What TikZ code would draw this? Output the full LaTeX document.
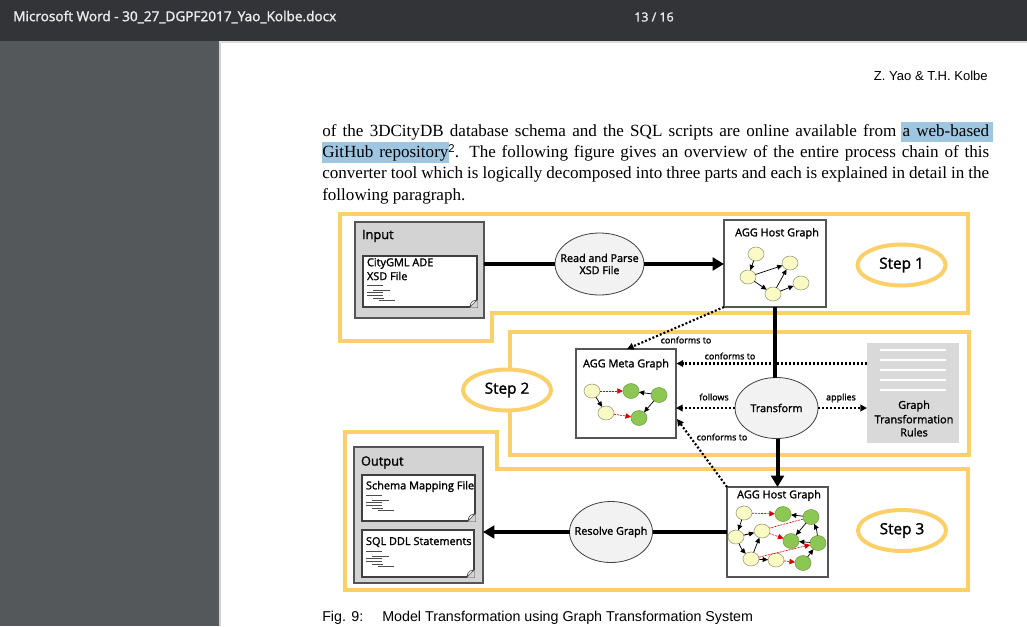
\documentclass[tikz,border=0pt]{standalone}
\usepackage{fontspec}
\setmainfont{Liberation Serif}
\newfontfamily\arialf{Liberation Sans}
\newfontfamily\diagf[FakeBold=1.6]{Open Sans}
\newfontfamily\headf[FakeBold=1.8]{Open Sans}
\usetikzlibrary{shapes.geometric,arrows.meta,calc}
\definecolor{stepcol}{HTML}{FBD068}
\definecolor{headbar}{HTML}{323437}
\definecolor{sidebar}{HTML}{54585A}
\definecolor{boxgray}{HTML}{D3D3D3}
\definecolor{rulegray}{HTML}{D9D9D9}
\definecolor{hilite}{HTML}{9FC6E0}
\definecolor{nodeyel}{HTML}{FAFAC4}
\definecolor{nodegrn}{HTML}{8CC653}
\definecolor{edgegray}{HTML}{555555}
\newcommand{\dsize}[1]{\fontsize{#1}{#1}\selectfont}
\tikzset{
  sz/.style 2 args={minimum width=#1*0.75pt,minimum height=#2*0.75pt,inner sep=0pt,outer sep=0pt},
  stepline/.style={draw=stepcol,line width=3pt,line join=miter},
  stepell/.style={ellipse,draw=stepcol,line width=3pt,fill=white,sz={#1}{41},font=\diagf\dsize{11.5}},
  stepell/.default=88,
  procell/.style={ellipse,draw=black!75,line width=0.6pt,fill=black!5,sz={83}{61},inner xsep=-14pt,inner ysep=-6pt,font=\diagf\dsize{8.1},align=center},
  holder/.style={rectangle,draw=edgegray,line width=0.8pt,fill=boxgray},
  graphbox/.style={rectangle,draw=edgegray,line width=0.8pt,fill=white},
  docbox/.style={rectangle,draw=black!75,line width=0.8pt,fill=white},
  lab/.style={font=\diagf\dsize{#1},inner sep=0pt,outer sep=0pt},
  yn/.style={ellipse,draw=black!40!nodeyel,line width=0.4pt,fill=nodeyel,sz={16}{14}},
  gn/.style={ellipse,draw=black!20!nodegrn,line width=0.4pt,fill=nodegrn,sz={16}{15}},
  thick arrow/.style={line width=3pt,-{Triangle[length=8.5pt,width=9.5pt]}},
  thick plain/.style={line width=3pt},
  dotarrow/.style={line width=1.6pt,dash pattern=on 1.5pt off 1.5pt,-{Triangle[length=5pt,width=5pt]}},
  bk/.style={line width=0.55pt,black,-{Triangle[length=4pt,width=3.6pt]}},
  rd/.style={line width=0.5pt,red!85!black,dash pattern=on 1.5pt off 0.8pt,-{Triangle[length=4.2pt,width=4pt]}},
  scrib/.pic={
    \draw[line width=0.45pt,black!70] (0,0)--(16,0) (6,5)--(23,5) (0,7)--(16,7) (0,10)--(16,10) (6,13)--(17,13) (12,15)--(28,15);
  },
  fold/.pic={
    \fill[boxgray] (-7,0.5)--(0.5,0.5)--(0.5,-7)--cycle;
    \draw[black!75,line width=0.5pt,fill=white] (-7,0)--(0,-7)--(-4,-6)--(-6,-4)--cycle;
  },
}
\begin{document}
\begin{tikzpicture}[x=0.75pt,y=-0.75pt]
\useasboundingbox (0,0) rectangle (1027,626);
\fill[white] (0,0) rectangle (1027,626);
% viewer chrome
\fill[sidebar] (0,41) rectangle (219,626);
\fill[black!18] (219,41) rectangle (220.5,626);
\fill[black!14] (219,41) rectangle (1027,42.5);
\fill[headbar] (0,0) rectangle (1027,41);
\node[anchor=west,text=white!92!black,inner sep=0pt] (title) at (13,17) {\headf\dsize{10.2}Microsoft Word - 30\_27\_DGPF2017\_Yao\_Kolbe.docx};
\node[text=white!92!black,inner sep=0pt] (pager) at (654,17) {\headf\dsize{9.3}13 / 16};
\node[anchor=east,inner sep=0pt] (runhead) at (988,76) {\arialf\dsize{9.8}Z. Yao \& T.H. Kolbe};
% body text
\fill[hilite] (901,122) rectangle (993,142);
\fill[hilite] (322,142) rectangle (449,163);
\node[anchor=base west,inner sep=0pt] (l1) at (322,136.7) {\dsize{12.8}\makebox[500.2pt][s]{of the 3DCityDB database schema and the SQL scripts are online available from a web-based}};
\node[anchor=base west,inner sep=0pt] (l2) at (322,157.7) {\dsize{12.8}\makebox[500.2pt][s]{GitHub repository\raisebox{4pt}{\arialf\dsize{8.5}2}. The following figure gives an overview of the entire process chain of this}};
\node[anchor=base west,inner sep=0pt] (l3) at (322,178.7) {\dsize{12.8}\makebox[500.2pt][s]{converter tool which is logically decomposed into three parts and each is explained in detail in the}};
\node[anchor=base west,inner sep=0pt] (l4) at (322,200.7) {\dsize{12.8}following paragraph.};
\node[anchor=base west,inner sep=0pt] (capa) at (322,621) {\arialf\dsize{10.7}Fig. 9:};
\node[anchor=base west,inner sep=0pt] (capb) at (382,621) {\arialf\dsize{10.7}Model Transformation using Graph Transformation System};
% step outlines
\draw[stepline] (340,214)--(968,214)--(968,313)--(492,313)--(492,341)--(340,341)--cycle;
\draw[stepline] (510,332)--(969,332)--(969,455)--(510,455)--cycle;
\draw[stepline] (345,432)--(497,432)--(497,469)--(968,469)--(968,590)--(345,590)--cycle;
\node[stepell] (s1) at (901.5,265) {Step 1};
\node[stepell] (s2) at (507,390) {Step 2};
\node[stepell] (s3) at (902,530.5) {Step 3};
% input
\node[holder,sz={129}{96}] (input) at (419.5,270) {};
\node[lab=9.6,anchor=west] (inputl) at (362,236) {Input};
\node[docbox,sz={114}{51}] (docA) at (420,281.5) {};
\pic at (docA.south east) {fold};
\node[lab=8.2,anchor=west] (docAa) at (367,263.5) {CityGML ADE};
\node[lab=8.2,anchor=west] (docAb) at (367,276) {XSD File};
\pic at (367,285) {scrib};
% output
\node[holder,sz={129}{136}] (output) at (418.5,515) {};
\node[lab=9.6,anchor=west] (outputl) at (361,462.5) {Output};
\node[docbox,sz={113}{46}] (docB) at (418.5,498) {};
\pic at (docB.south east) {fold};
\node[lab=8.2,anchor=west] (docBa) at (366,486.5) {Schema Mapping File};
\pic at (366,495.5) {scrib};
\node[docbox,sz={112}{47}] (docC) at (418,553.5) {};
\pic at (docC.south east) {fold};
\node[lab=8.2,anchor=west] (docCa) at (366,542) {SQL DDL Statements};
\pic at (366,551) {scrib};
% process ellipses
\node[procell,sz={89}{62},inner xsep=-14pt,inner ysep=-6pt] (read) at (599.5,264) {Read and Parse\\[1pt]XSD File};
\node[procell] (transform) at (776.5,408) {Transform};
\node[procell] (resolve) at (611,532) {Resolve Graph};
% graph boxes
\node[graphbox,sz={102}{87}] (hostA) at (775,263.5) {};
\node[lab=8.2] (hostAl) at (777,233.5) {AGG Host Graph};
\node[graphbox,sz={100}{89}] (meta) at (626,393.5) {};
\node[lab=8.2] (metal) at (626,364.5) {AGG Meta Graph};
\node[graphbox,sz={101}{90}] (hostB) at (777.5,532) {};
\node[lab=8.2] (hostBl) at (779,495.5) {AGG Host Graph};
% rules
\node[rectangle,fill=rulegray,sz={92}{100}] (rules) at (913,393) {};
\foreach \yy in {350,360,370,380,390} \fill[white] (880,\yy-0.7) rectangle (946,\yy+0.7);
\node[lab=8.2,align=center] (rulesl) at (914,418.5) {Graph\\[1.6pt]Transformation\\[1.6pt]Rules};
% main flow
\draw[thick plain] (input.east |- read) -- (read.west);
\draw[thick arrow] (read.east) -- (hostA.west |- read);
\draw[thick plain] (hostA.south) -- (hostA.south |- transform.north);
\draw[thick arrow] (transform.south -| hostB.north) -- (hostB.north);
\draw[thick plain] (hostB.west |- resolve) -- (resolve.east);
\draw[thick arrow] (resolve.west) -- (output.east |- resolve);
% dotted relations
\coordinate (metaTop) at (627,349);
\coordinate (metaLow) at (677,419);
\coordinate (metaMid) at (676.5,363.5);
\draw[dotarrow] (hostA.south west) -- (metaTop);
\draw[dotarrow] (rules.west |- metaMid) -- (metaMid);
\draw[dotarrow] (transform.west) -- (meta.east |- transform);
\draw[dotarrow] (transform.east) -- (rules.west |- transform);
\draw[dotarrow] (hostB.north west) -- (metaLow);
\node[lab=6.7] (c1) at (686,340) {conforms to};
\node[lab=6.7] (c2) at (730,356) {conforms to};
\node[lab=6.7] (c3) at (714,397) {follows};
\node[lab=6.7] (c4) at (841,398) {applies};
\node[lab=6.7] (c5) at (722,437) {conforms to};
% host graph 1
\node[yn] (a1) at (756,254) {};
\node[yn] (a2) at (748,277) {};
\node[yn] (a3) at (790,263) {};
\node[yn] (a4) at (773,294) {};
\node[yn] (a5) at (801,283) {};
\draw[bk] (a1)--(a2);
\draw[bk] (a2)--(a3);
\draw[bk] (a2)--(a4);
\draw[bk] (a4)--(a3);
\draw[bk] (a4)--(a5);
% meta graph
\node[yn] (m1) at (592,391) {};
\node[gn] (m2) at (631,391) {};
\node[gn] (m3) at (659,395) {};
\node[yn] (m4) at (606,413) {};
\node[gn] (m5) at (639,418) {};
\draw[rd] (m1)--(m2);
\draw[rd] (m4)--(m5);
\draw[bk] (m3)--(m2);
\draw[bk] (m3)--(m5);
\draw[bk] (m1)--(m4);
% host graph 2
\coordinate (b2r) at (736,537);
\coordinate (g2r) at (811,517);
\draw[rd] (b2r)--(g2r);
\node[yn] (b1) at (744,513) {};
\node[yn] (b2) at (736,537) {};
\node[yn] (b3) at (762,531) {};
\node[yn] (b4) at (751,559) {};
\node[yn] (b5) at (776,560) {};
\node[gn] (g1) at (783,514) {};
\node[gn] (g2) at (811,517) {};
\node[gn] (g3) at (791,541) {};
\node[gn] (g4) at (818,543) {};
\node[gn] (g5) at (803,563) {};
\draw[rd] (b1)--(g1);
\draw[rd] (b3)--(g3);
\draw[rd] (b4)--(g4);
\draw[rd] (b5)--(g5);
\draw[bk] (b1)--(b2);
\draw[bk] (b2)--(b3);
\draw[bk] (b2) to[bend right=10] (b4);
\draw[bk] (b4)--(b3);
\draw[bk] (b4)--(b5);
\draw[bk] (g2)--(g1);
\draw[bk] (g2)--(g3);
\draw[bk] (g4)--(g3);
\draw[bk] (g4) to[bend right=10] (g2);
\draw[bk] (g5)--(g4);
\end{tikzpicture}
\end{document}
